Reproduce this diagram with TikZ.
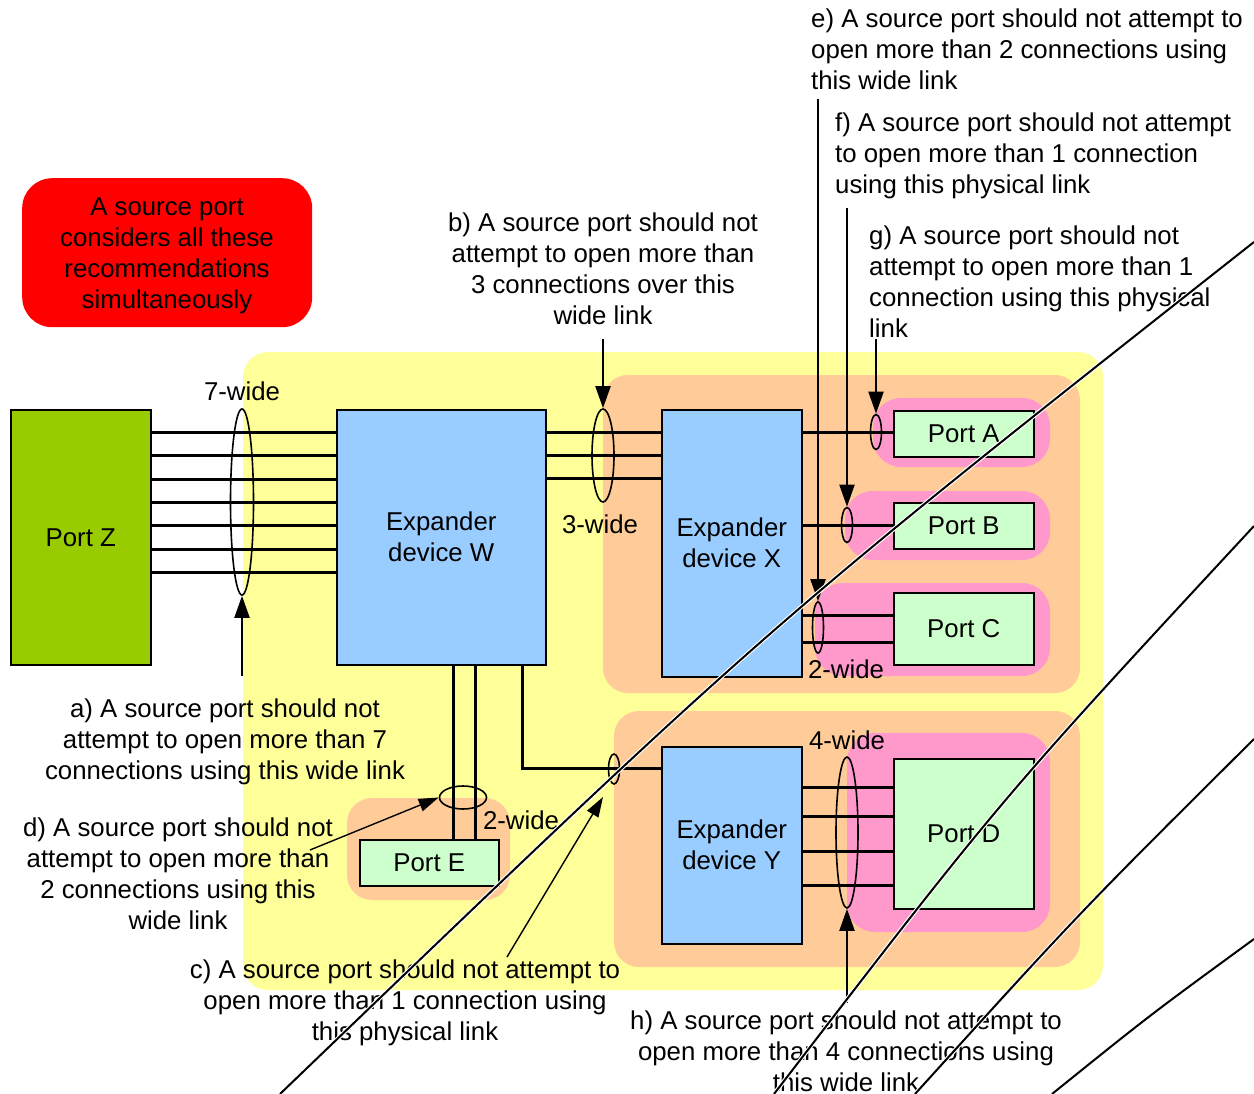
\documentclass[tikz,border=0pt]{standalone}
\usepackage{fontspec}
\setmainfont{Liberation Sans}
\usetikzlibrary{shapes.geometric,arrows.meta,calc}
\definecolor{bgyellow}{HTML}{FFFF99}
\definecolor{grporange}{HTML}{FFCC99}
\definecolor{grppink}{HTML}{FF99CC}
\definecolor{portgreen}{HTML}{CCFFCC}
\definecolor{expblue}{HTML}{99CCFF}
\definecolor{zgreen}{HTML}{99CC00}
\begin{document}
\begin{tikzpicture}[x=1pt,y=-1pt,
  txt/.style={font=\fontsize{25.8}{31}\selectfont, inner sep=0pt, align=center},
  box/.style={draw, line width=1.5pt, anchor=north west, inner sep=0pt, txt},
  portbox/.style={box, fill=portgreen},
  expbox/.style={box, fill=expblue},
  link/.style={line width=3pt},
  ring/.style={draw, ellipse, line width=1.6pt, inner sep=0pt},
  arr/.style={line width=2pt, -{Triangle[length=22pt,width=15pt]}},
  thinarr/.style={line width=1.4pt, -{Triangle[length=20pt,width=13pt]}},
  diag/.style={draw=white, line width=1.1pt, double=black, double distance=2pt},
]
\useasboundingbox (0,0) rectangle (1254,1094);
\fill[white] (0,0) rectangle (1254,1094);

% grouping regions
\fill[bgyellow, rounded corners=25pt] (243,352) rectangle (1103,990);
\fill[grporange, rounded corners=25pt] (603,375) rectangle (1080,693);
\fill[grporange, rounded corners=25pt] (614,711) rectangle (1080,967);
\fill[grporange, rounded corners=25pt] (347,798) rectangle (510,900);
\fill[grppink, rounded corners=28pt] (873,398) rectangle (1050,467);
\fill[grppink, rounded corners=28pt] (845,491) rectangle (1050,560);
\fill[grppink, rounded corners=28pt] (815,583) rectangle (1050,676);
\fill[grppink, rounded corners=28pt] (847,733) rectangle (1050,932);

% red note
\node[txt, fill=red, rounded corners=30pt, minimum width=290pt, minimum height=149pt, anchor=north west] (note) at (22,178) {};
\node[txt] (notetxt) at (167,256) {A source port\\considers all these\\recommendations\\simultaneously};

% boxes
\node[box, fill=zgreen, minimum width=140pt, minimum height=255pt] (Z) at (10,409) {Port Z};
\node[expbox, minimum width=209pt, minimum height=255pt] (W) at (336,409) {Expander\\device W};
\node[expbox, minimum width=140pt, minimum height=267pt] (X) at (661,409) {Expander\\device X};
\node[expbox, minimum width=140pt, minimum height=197pt] (Y) at (661,746) {Expander\\device Y};
\node[portbox, minimum width=140pt, minimum height=46pt] (A) at (893,410) {Port A};
\node[portbox, minimum width=140pt, minimum height=46pt] (B) at (893,502) {Port B};
\node[portbox, minimum width=140pt, minimum height=72pt] (C) at (893,592) {Port C};
\node[portbox, minimum width=140pt, minimum height=150pt] (D) at (893,758) {Port D};
\node[portbox, minimum width=139pt, minimum height=46pt] (E) at (359,839) {Port E};

% links
\foreach \yy in {432,455,479,502,525,549,572}
  \draw[link] (Z.east |- 0,\yy) -- (W.west |- 0,\yy);
\foreach \yy in {432,455,478}
  \draw[link] (W.east |- 0,\yy) -- (X.west |- 0,\yy);
\draw[link] (X.east |- 0,432) -- (A.west |- 0,432);
\draw[link] (X.east |- 0,525) -- (B.west |- 0,525);
\foreach \yy in {615,642}
  \draw[link] (X.east |- 0,\yy) -- (C.west |- 0,\yy);
\foreach \yy in {787,816,851,885}
  \draw[link] (Y.east |- 0,\yy) -- (D.west |- 0,\yy);
\foreach \xx in {453,475}
  \draw[link] (W.south -| \xx,0) -- (E.north -| \xx,0);
\coordinate (wycorner) at (522,768);
\draw[link] (W.south -| wycorner) -- (wycorner) -- (Y.west |- wycorner);

% link rings
\node[ring, minimum width=23pt, minimum height=186pt] (r7) at (242,502) {};
\node[ring, minimum width=22pt, minimum height=93pt] (r3) at (603,455.5) {};
\node[ring, minimum width=11pt, minimum height=35pt] (rA) at (876,432) {};
\node[ring, minimum width=11pt, minimum height=35pt] (rB) at (847,525) {};
\node[ring, minimum width=11pt, minimum height=51pt] (rC) at (818,627.5) {};
\node[ring, minimum width=11pt, minimum height=30pt] (rWY) at (614,769) {};
\node[ring, minimum width=47pt, minimum height=23pt] (rE) at (463,797.5) {};
\node[ring, minimum width=22pt, minimum height=151pt] (r4) at (847,832.5) {};

% width labels
\node[txt] (l7) at (242,391) {7-wide};
\node[txt] (l3) at (600,524) {3-wide};
\node[txt] (l2c) at (846,669) {2-wide};
\node[txt] (l4) at (847,740) {4-wide};
\node[txt] (l2e) at (521,820) {2-wide};

% recommendation texts
\node[txt] (ta) at (225,742) {a) A source port should not\\attempt to open more than 7\\connections using this wide link};
\node[txt] (tb) at (603,269) {b) A source port should not\\attempt to open more than\\3 connections over this\\wide link};
\node[txt] (tc) at (405,1003) {c) A source port should not attempt to\\open more than 1 connection using\\this physical link};
\node[txt] (td) at (178,874) {d) A source port should not\\attempt to open more than\\2 connections using this\\wide link};
\node[txt, align=left, anchor=west] (te) at (811,49) {e) A source port should not attempt to\\open more than 2 connections using\\this wide link};
\node[txt, align=left, anchor=west] (tf) at (835,156) {f) A source port should not attempt\\to open more than 1 connection\\using this physical link};
\node[txt, align=left, anchor=west] (tg) at (869,282) {g) A source port should not\\attempt to open more than 1\\connection using this physical\\link};
\node[txt] (th) at (846,1051) {h) A source port should not attempt to\\open more than 4 connections using\\this wide link};

% callout arrows
\coordinate (aa) at (242,676);
\coordinate (ab) at (603,339);
\coordinate (ae) at (818,99);
\coordinate (af) at (847,208);
\coordinate (ag) at (876,339);
\coordinate (ah) at (847,1003);
\coordinate (ac) at (507,957);
\coordinate (actip) at (603,797);
\coordinate (ad) at (310,850);
\draw[arr] (aa) -- (r7.south);
\draw[arr] (ab) -- (r3.north);
\draw[arr] (ae) -- (rC.north);
\draw[arr] (af) -- (rB.north);
\draw[arr] (ag) -- (rA.north);
\draw[arr] (ah) -- (r4.south);
\draw[thinarr] (ac) -- (actip);
\draw[thinarr] (ad) -- (rE.west);

% stray diagonal strokes
\draw[diag] (280,1094) .. controls (767,626) .. (1254,242);
\draw[diag] (774,1094) .. controls (1000,800) .. (1254,526);
\draw[diag] (915,1094) .. controls (1080,912) .. (1254,739);
\draw[diag] (1052,1094) .. controls (1150,1015) .. (1254,939);
\end{tikzpicture}
\end{document}
